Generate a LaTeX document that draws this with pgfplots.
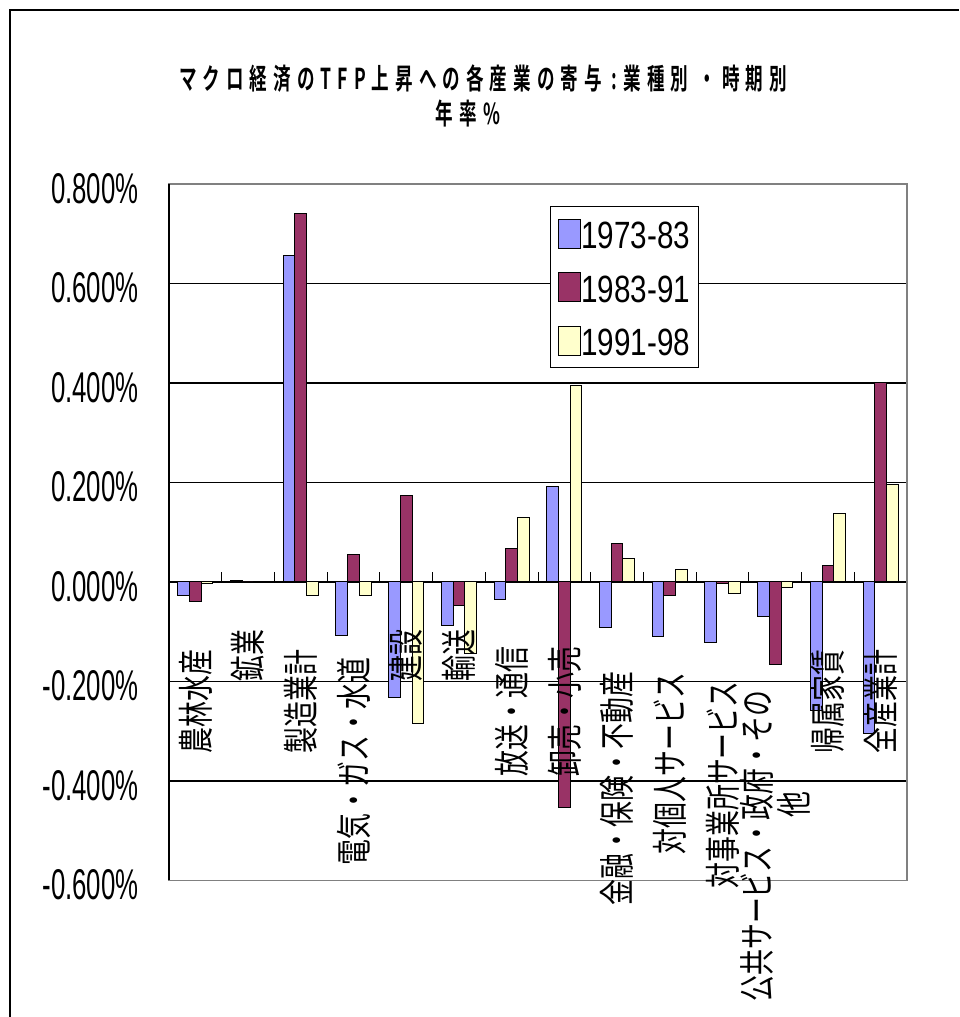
\documentclass[border=0pt]{standalone}
\usepackage{pgfplots}
\pgfplotsset{compat=1.18}
\usepackage{fontspec}
\setmainfont{Liberation Sans}
\newfontfamily\tickfont{Liberation Sans}[FakeStretch=0.6]
\newfontfamily\legfont{Liberation Sans}[FakeStretch=0.78]
\newfontfamily\labfont{Noto Sans CJK JP}[FakeStretch=0.72]
\newfontfamily\titlefont{Noto Sans CJK JP Bold}[FakeStretch=0.61,LetterSpace=21]
\definecolor{cA}{HTML}{9999FF}
\definecolor{cB}{HTML}{993366}
\definecolor{cC}{HTML}{FFFFCC}
\definecolor{bord}{HTML}{808080}
\pgfplotsset{sqlegend/.style={legend image code/.code={\draw[##1] (0pt,-7.4pt) rectangle (11pt,7.1pt);}}}
\begin{document}
\begin{tikzpicture}
\useasboundingbox (0,0) rectangle (479.5pt,508.5pt);
\draw[line width=0.8pt] (5pt,0pt) -- (5pt,503.5pt) -- (479.5pt,503.5pt);
\node[font=\titlefont\fontsize{14.4pt}{14.4pt}\selectfont] at (241.5pt,469.25pt) {マクロ経済のTFP上昇への各産業の寄与 :業種別 ・時期別};
\node[font=\titlefont\fontsize{14.4pt}{14.4pt}\selectfont] at (234pt,451.75pt) {年率\%};
\begin{axis}[
  at={(84.5pt,68.25pt)}, anchor=south west,
  scale only axis, width=369pt, height=348.25pt,
  xmin=-0.5, xmax=13.5, ymin=-0.6, ymax=0.8,
  xtick=\empty,
  ytick={-0.6,-0.4,-0.2,0,0.2,0.4,0.6,0.8},
  yticklabels={-0.600\%,-0.400\%,-0.200\%,0.000\%,0.200\%,0.400\%,0.600\%,0.800\%},
  yticklabel style={font=\tickfont\fontsize{21.5pt}{21.5pt}\selectfont, anchor=east, inner sep=0pt, xshift=-15pt, yshift=-2.25pt},
  ytick pos=left, tick align=inside, major tick length=5pt,
  ytick style={black, line width=0.5pt},
  ymajorgrids, grid style={black, line width=0.55pt},
  axis line style={bord, line width=0.9pt},
  clip=false,
  legend style={at={(0.516,0.968)}, anchor=north west, draw=black, line width=0.6pt,
    font=\legfont\fontsize{19pt}{19pt}\selectfont, inner xsep=4pt, inner ysep=6pt,
    row sep=11.5pt, nodes={inner sep=0pt, text height=15pt, text depth=0pt},
    /tikz/every even column/.append style={column sep=4.5pt}},
  legend cell align=left,
]
\addplot[ybar, bar width=0.2222, bar shift=-0.2222, fill=cA, draw=black, line width=0.5pt, sqlegend]
  coordinates {(0,-0.028) (1,0.004) (2,0.656) (3,-0.108) (4,-0.232) (5,-0.088) (6,-0.036)
  (7,0.192) (8,-0.092) (9,-0.109) (10,-0.121) (11,-0.069) (12,-0.259) (13,-0.305)};
\addlegendentry{1973-83}
\addplot[ybar, bar width=0.2222, bar shift=0, fill=cB, draw=black, line width=0.5pt, sqlegend]
  coordinates {(0,-0.040) (1,0.0) (2,0.740) (3,0.056) (4,0.173) (5,-0.048) (6,0.068)
  (7,-0.454) (8,0.077) (9,-0.028) (10,-0.003) (11,-0.165) (12,0.033) (13,0.402)};
\addlegendentry{1983-91}
\addplot[ybar, bar width=0.2222, bar shift=0.2222, fill=cC, draw=black, line width=0.5pt, sqlegend]
  coordinates {(0,-0.003) (1,0.001) (2,-0.028) (3,-0.028) (4,-0.285) (5,-0.144) (6,0.129)
  (7,0.395) (8,0.048) (9,0.025) (10,-0.024) (11,-0.012) (12,0.137) (13,0.196)};
\addlegendentry{1991-98}
\draw[black, line width=0.6pt] (rel axis cs:0,0) -- (rel axis cs:0,1);
\pgfplotsinvokeforeach{0.5,1.5,2.5,3.5,4.5,5.5,6.5,7.5,8.5,9.5,10.5,11.5,12.5}{
  \draw[black, line width=0.5pt] (axis cs:#1,0) -- ++(0pt,5pt);
}
\tikzset{lab/.style={rotate=90, font=\labfont\fontsize{18pt}{18pt}\selectfont, inner sep=0pt, anchor=center}}
\node[lab] at (axis cs:0,-0.240) {農林水産};
\node[lab] at (axis cs:1,-0.148) {鉱業};
\node[lab] at (axis cs:2,-0.240) {製造業計};
\node[lab] at (axis cs:3,-0.361) {電気・ガス・水道};
\node[lab] at (axis cs:4,-0.148) {建設};
\node[lab] at (axis cs:5,-0.148) {輸送};
\node[lab] at (axis cs:6,-0.260) {放送・通信};
\node[lab] at (axis cs:7,-0.260) {卸売・小売};
\node[lab] at (axis cs:8,-0.4155) {金融・保険・不動産};
\node[lab] at (axis cs:9,-0.365) {対個人サービス};
\node[lab] at (axis cs:10,-0.408) {対事業所サービス};
\node[lab] at (axis cs:10.66,-0.531) {公共サービス・政府・その};
\node[lab] at (axis cs:11.36,-0.448) {他};
\node[lab] at (axis cs:12,-0.240) {帰属家賃};
\node[lab] at (axis cs:13,-0.240) {全産業計};
\end{axis}
\end{tikzpicture}
\end{document}
